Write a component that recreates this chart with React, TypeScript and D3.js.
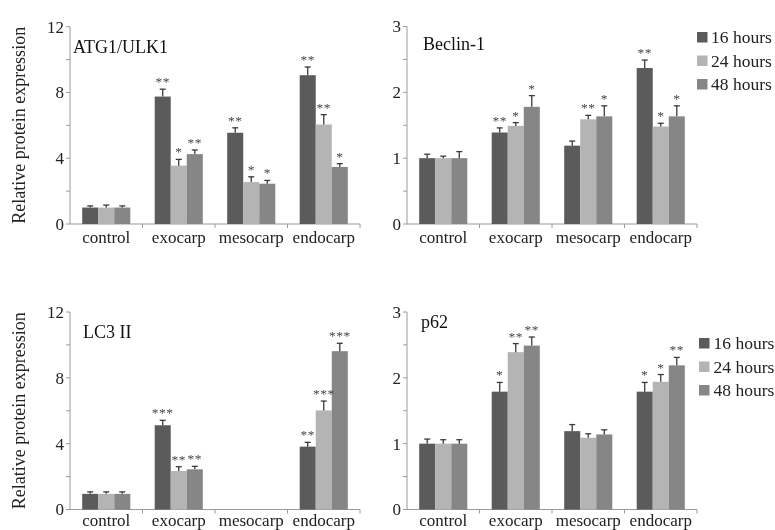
import React from "react";
import * as d3 from "d3";

const categories = ["control", "exocarp", "mesocarp", "endocarp"];
const seriesNames = ["16 hours", "24 hours", "48 hours"];

// ATG1/ULK1
const atgH16 = [1.0, 7.75, 5.55, 9.05];
const atgH24 = [1.0, 3.55, 2.55, 6.05];
const atgH48 = [1.0, 4.25, 2.45, 3.47];
const atgErr16 = [0.1, 0.45, 0.3, 0.5];
const atgErr24 = [0.15, 0.38, 0.32, 0.6];
const atgErr48 = [0.1, 0.25, 0.2, 0.2];
const atgSig16 = ["", "**", "**", "**"];
const atgSig24 = ["", "*", "*", "**"];
const atgSig48 = ["", "**", "*", "*"];

// Beclin-1
const becH16 = [1.0, 1.39, 1.19, 2.37];
const becH24 = [1.0, 1.49, 1.59, 1.48];
const becH48 = [1.0, 1.78, 1.635, 1.635];
const becErr16 = [0.06, 0.07, 0.07, 0.12];
const becErr24 = [0.03, 0.05, 0.06, 0.05];
const becErr48 = [0.1, 0.17, 0.16, 0.16];
const becSig16 = ["", "**", "", "**"];
const becSig24 = ["", "*", "**", "*"];
const becSig48 = ["", "*", "*", "*"];

// LC3 II
const lcH16 = [0.95, 5.12, 0, 3.82];
const lcH24 = [0.95, 2.34, 0, 6.02];
const lcH48 = [0.95, 2.44, 0, 9.62];
const lcErr16 = [0.12, 0.3, 0, 0.26];
const lcErr24 = [0.12, 0.26, 0, 0.57];
const lcErr48 = [0.12, 0.18, 0, 0.48];
const lcSig16 = ["", "***", "", "**"];
const lcSig24 = ["", "**", "", "***"];
const lcSig48 = ["", "**", "", "***"];

// p62
const pH16 = [1.0, 1.79, 1.19, 1.79];
const pH24 = [1.0, 2.39, 1.09, 1.94];
const pH48 = [1.0, 2.49, 1.14, 2.19];
const pErr16 = [0.07, 0.14, 0.1, 0.14];
const pErr24 = [0.06, 0.13, 0.06, 0.11];
const pErr48 = [0.06, 0.13, 0.07, 0.12];
const pSig16 = ["", "*", "", "*"];
const pSig24 = ["", "**", "", "*"];
const pSig48 = ["", "**", "", "**"];

const leftTicks = [0, 2, 4, 6, 8, 10, 12];
const rightTicks = [0, 0.5, 1, 1.5, 2, 2.5, 3];

const colors = ["#5b5b5b", "#b4b4b4", "#868686"];
const FONT = "'Liberation Serif', 'Times New Roman', serif";

type PanelProps = {
  title: string;
  values: number[][];
  errs: number[][];
  sigs: string[][];
  max: number;
  ticks: number[];
  x0: number;
  x1: number;
  yTop: number;
  yBottom: number;
  titlePos: [number, number];
  yLabel?: boolean;
  legend?: [number, number, number];
  catDy: number;
};

function Panel(p: PanelProps) {
  const x = d3.scaleBand<string>().domain(categories).range([p.x0, p.x1]).paddingInner(0).paddingOuter(0);
  const xs = d3
    .scaleBand<string>()
    .domain(seriesNames)
    .range([12.2, x.bandwidth() - 12.2])
    .padding(0);
  const y = d3.scaleLinear().domain([0, p.max]).range([p.yBottom, p.yTop]);
  const axisColor = "#9a9a9a";
  return (
    <g>
      {/* y axis */}
      <line x1={p.x0} x2={p.x0} y1={y(0)} y2={y(p.max)} stroke={axisColor} strokeWidth={1} />
      {p.ticks.map((t, i) => (
        <g key={"yt" + i}>
          <line x1={p.x0 - 4} x2={p.x0} y1={y(t)} y2={y(t)} stroke={axisColor} strokeWidth={1} />
          {Number.isInteger(p.max === 12 ? t / 4 : t) && (
            <text x={p.x0 - 6} y={y(t)} dy="0.35em" textAnchor="end" fontSize={17} fill="#222" fontFamily={FONT}>
              {t}
            </text>
          )}
        </g>
      ))}
      {/* x axis */}
      <line x1={p.x0} x2={p.x1} y1={y(0)} y2={y(0)} stroke={axisColor} strokeWidth={1} />
      {categories.map((c, i) => (
        <g key={"xc" + i}>
          <line
            x1={(x(c) as number) + x.bandwidth()}
            x2={(x(c) as number) + x.bandwidth()}
            y1={y(0)}
            y2={y(0) + 4}
            stroke={axisColor}
          />
          <text
            x={(x(c) as number) + x.bandwidth() / 2}
            y={y(0) + p.catDy}
            textAnchor="middle"
            fontSize={17}
            fill="#222"
            fontFamily={FONT}
          >
            {c}
          </text>
        </g>
      ))}
      {/* bars */}
      {categories.map((c, ci) =>
        seriesNames.map((s, si) => {
          const v = p.values[si][ci];
          if (!v) return null;
          const bx = (x(c) as number) + (xs(s) as number);
          const bw = xs.bandwidth();
          const e = p.errs[si][ci];
          const cx = bx + bw / 2;
          return (
            <g key={c + s}>
              <rect x={bx} y={y(v)} width={bw} height={y(0) - y(v)} fill={colors[si]} />
              {e > 0 && (
                <g stroke="#3a3a3a" strokeWidth={1.3}>
                  <line x1={cx} x2={cx} y1={y(v)} y2={y(v + e)} />
                  <line x1={cx - 3} x2={cx + 3} y1={y(v + e)} y2={y(v + e)} />
                </g>
              )}
            </g>
          );
        })
      )}
      {/* significance marks */}
      <g>
        {categories.map((c, ci) =>
          seriesNames.map((s, si) => {
            const sig = p.sigs[si][ci];
            const v = p.values[si][ci];
            if (!sig) return null;
            const e = p.errs[si][ci];
            const cx = (x(c) as number) + (xs(s) as number) + xs.bandwidth() / 2;
            return (
              <text
                key={"sg" + c + s}
                x={cx}
                y={y(v + e) - 3}
                textAnchor="middle"
                fontSize={13.5}
                fill="#444"
                fontFamily={FONT}
                letterSpacing={0.5}
              >
                {sig}
              </text>
            );
          })
        )}
      </g>
      <text x={p.titlePos[0]} y={p.titlePos[1]} fontSize={18} fill="#111" fontFamily={FONT}>
        {p.title}
      </text>
      {p.yLabel && (
        <text
          transform={`translate(25,${(p.yTop + p.yBottom) / 2}) rotate(-90)`}
          textAnchor="middle"
          fontSize={18}
          fill="#222"
          fontFamily={FONT}
        >
          Relative protein expression
        </text>
      )}
      {p.legend &&
        seriesNames.map((s, si) => (
          <g key={"lg" + si}>
            <rect
              x={p.legend![0]}
              y={p.legend![1] + si * 23.5 - 5}
              width={10.5}
              height={10.5}
              fill={colors[si]}
            />
            <text
              x={p.legend![2]}
              y={p.legend![1] + si * 23.5}
              dy="0.35em"
              fontSize={17.5}
              fill="#222"
              fontFamily={FONT}
            >
              {s}
            </text>
          </g>
        ))}
    </g>
  );
}

export default function App() {
  return (
    <svg
      width={775}
      height={530}
      style={{ position: "absolute", left: 0, top: 0, background: "#fff" }}
    >
      <defs>
        <filter id="gray" x="0" y="0" width="1" height="1">
          <feColorMatrix type="saturate" values="0" />
        </filter>
      </defs>
      <g filter="url(#gray)">
        <rect width={775} height={530} fill="#fff" />
        <Panel
          title="ATG1/ULK1"
          values={[atgH16, atgH24, atgH48]}
          errs={[atgErr16, atgErr24, atgErr48]}
          sigs={[atgSig16, atgSig24, atgSig48]}
          max={12}
          ticks={leftTicks}
          x0={70}
          x1={360}
          yTop={26.7}
          yBottom={224}
          titlePos={[73, 53]}
          yLabel
          catDy={19}
        />
        <Panel
          title="Beclin-1"
          values={[becH16, becH24, becH48]}
          errs={[becErr16, becErr24, becErr48]}
          sigs={[becSig16, becSig24, becSig48]}
          max={3}
          ticks={rightTicks}
          x0={407}
          x1={697}
          yTop={26.5}
          yBottom={224}
          titlePos={[423, 50]}
          legend={[697, 37, 711]}
          catDy={19}
        />
        <Panel
          title="LC3 II"
          values={[lcH16, lcH24, lcH48]}
          errs={[lcErr16, lcErr24, lcErr48]}
          sigs={[lcSig16, lcSig24, lcSig48]}
          max={12}
          ticks={leftTicks}
          x0={70}
          x1={360}
          yTop={312}
          yBottom={509.5}
          titlePos={[83, 338]}
          yLabel
          catDy={16}
        />
        <Panel
          title="p62"
          values={[pH16, pH24, pH48]}
          errs={[pErr16, pErr24, pErr48]}
          sigs={[pSig16, pSig24, pSig48]}
          max={3}
          ticks={rightTicks}
          x0={407}
          x1={697}
          yTop={312}
          yBottom={509.5}
          titlePos={[421, 328]}
          legend={[699, 343, 713.5]}
          catDy={16}
        />
      </g>
    </svg>
  );
}
